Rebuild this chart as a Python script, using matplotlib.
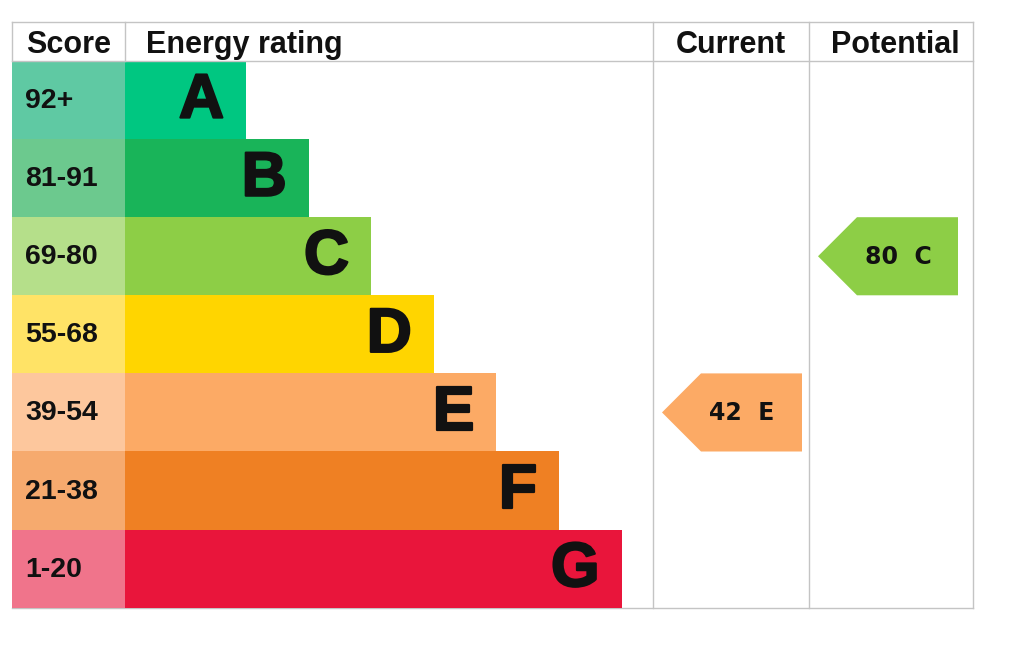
import matplotlib
matplotlib.use("Agg")
import matplotlib.pyplot as plt
from matplotlib.patches import Polygon
import matplotlib.patheffects as pe

# ---- data ----
bands = ["A", "B", "C", "D", "E", "F", "G"]
score_ranges = ["92+", "81-91", "69-80", "55-68", "39-54", "21-38", "1-20"]
band_colors = ["#00c781", "#19b459", "#8dce46", "#ffd500", "#fcaa65", "#ef8023", "#e9153b"]
score_colors = ["#5fc9a3", "#6cc98e", "#b5df8a", "#ffe366", "#fdc79d", "#f6aa6e", "#f0748b"]
band_lower = [92, 81, 69, 55, 39, 21, 1]
current_rating = 42
potential_rating = 80
headers = ["Score", "Energy rating", "Current", "Potential"]

# ---- layout (pixels) ----
W, H = 1024, 658
fig = plt.figure(figsize=(W / 100, H / 100), dpi=100)
ax = fig.add_axes([0, 0, 1, 1])
ax.set_xlim(0, W)
ax.set_ylim(H, 0)
ax.axis("off")

x_left, x_score, x_cur, x_pot, x_right = 12, 125, 653, 809, 973
y_top, y_head = 22, 61
row_h = 78.1
bar_step = 62.6
bar0 = 121

row_centers = [y_head + row_h * (i + 0.5) for i in range(len(bands))]
bar_widths = [bar0 + bar_step * i for i in range(len(bands))]
y_bottom = y_head + row_h * len(bands)

FONT = "Liberation Sans"
INK = "#111111"
thick = [pe.withStroke(linewidth=1.6, foreground=INK)]

# score column cells
ax.barh(row_centers, [x_score - x_left] * len(bands), left=x_left, height=row_h,
        color=score_colors, linewidth=0, zorder=1)
# rating bars
ax.barh(row_centers, bar_widths, left=x_score, height=row_h,
        color=band_colors, linewidth=0, zorder=1)

for i, (b, s) in enumerate(zip(bands, score_ranges)):
    ax.text(x_left + 13, row_centers[i] + 1, s, fontsize=20.5, fontweight="bold",
            family=FONT, ha="left", va="center", color=INK, zorder=3)
    ax.text(x_score + bar_widths[i] - 22, row_centers[i] + 1, b, fontsize=45,
            fontweight="bold", family=FONT, ha="right", va="center",
            color=INK, zorder=3, path_effects=thick)

# grid lines
lc = "#c4c4c4"
lw = 1.0
ax.plot([x_left, x_right], [y_top, y_top], color=lc, lw=lw, zorder=2)
ax.plot([x_left, x_right], [y_head, y_head], color=lc, lw=lw, zorder=2)
ax.plot([x_left, x_right], [y_bottom, y_bottom], color=lc, lw=lw, zorder=0)
ax.plot([x_left, x_left], [y_top, y_head], color=lc, lw=lw, zorder=2)
ax.plot([x_score, x_score], [y_top, y_head], color=lc, lw=lw, zorder=2)
for xv in (x_cur, x_pot, x_right):
    ax.plot([xv, xv], [y_top, y_bottom], color=lc, lw=lw, zorder=2)

# headers
hy = 53
hkw = dict(fontsize=22, fontweight="bold", family=FONT, va="baseline", color=INK)
ax.text((x_left + x_score) / 2, hy, headers[0], ha="center", **hkw)
ax.text(x_score + 21, hy, headers[1], ha="left", **hkw)
ax.text((x_cur + x_pot) / 2, hy, headers[2], ha="center", **hkw)
ax.text((x_pot + x_right) / 2 + 4, hy, headers[3], ha="center", **hkw)


def band_index(rating):
    for i, lo in enumerate(band_lower):
        if rating >= lo:
            return i
    return len(band_lower) - 1


def draw_arrow(rating, col_left, right):
    i = band_index(rating)
    yc = row_centers[i]
    top, bot = yc - row_h / 2, yc + row_h / 2
    tip = col_left + 9
    shoulder = tip + 39
    poly = Polygon([(tip, yc), (shoulder, top), (right, top), (right, bot), (shoulder, bot)],
                   closed=True, facecolor=band_colors[i], edgecolor="none", zorder=3)
    ax.add_patch(poly)
    ax.text((tip + right) / 2 + 10, yc + 1, f"{rating}  {bands[i]}", fontsize=17,
            fontweight="bold", family="DejaVu Sans", ha="center", va="center",
            color=INK, zorder=4)


draw_arrow(current_rating, x_cur, x_pot - 7)
draw_arrow(potential_rating, x_pot, x_right - 15)

fig.savefig("out.png", dpi=100, facecolor="white")
